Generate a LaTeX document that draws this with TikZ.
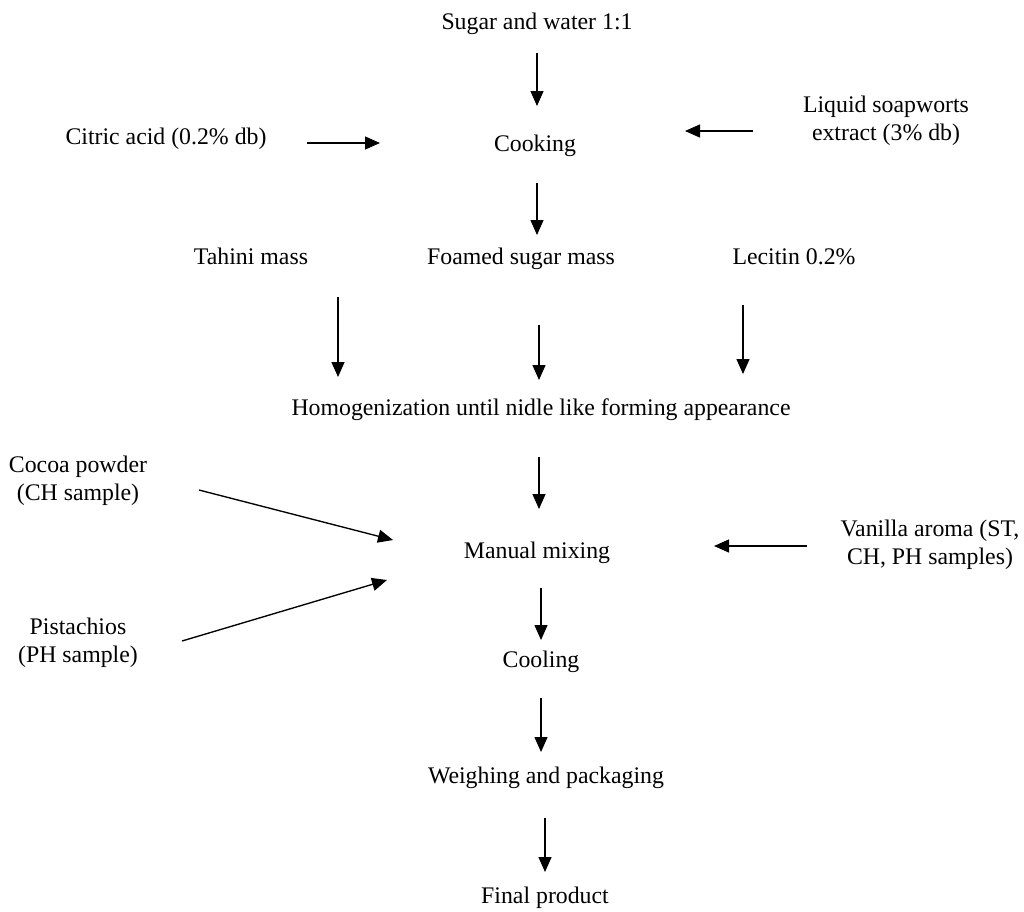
\documentclass[tikz,border=0pt]{standalone}
\usepackage{fontspec}
\setmainfont{Liberation Serif}
\usetikzlibrary{arrows.meta}
\begin{document}
\begin{tikzpicture}[x=1pt,y=-1pt,
  lbl/.style={inner sep=0pt, align=center, font=\fontsize{23.8}{27.8}\selectfont},
  flow/.style={line width=1.35pt, -{Triangle[length=15pt,width=13pt]}}]
\useasboundingbox (0,0) rectangle (1024,911);
% labels
\node[lbl] (sugar)   at (537,24)  {Sugar and water 1:1};
\node[lbl] (cook)    at (535,146) {Cooking};
\node[lbl] (citric)  at (166,139) {Citric acid (0.2\% db)};
\node[lbl] (liquid)  at (886,121) {Liquid soapworts\\extract (3\% db)};
\node[lbl,anchor=base] (tahini)  at (251,264) {Tahini mass};
\node[lbl,anchor=base] (foamed)  at (521,264) {Foamed sugar mass};
\node[lbl,anchor=base] (lecitin) at (794,264) {Lecitin 0.2\%};
\node[lbl] (homog)   at (541,410) {Homogenization until nidle like forming appearance};
\node[lbl] (cocoa)   at (78,481)  {Cocoa powder\\(CH sample)};
\node[lbl] (manual)  at (537,553) {Manual mixing};
\node[lbl] (pist)    at (78,643)  {Pistachios\\(PH sample)};
\node[lbl] (vanilla) at (930,545) {Vanilla aroma (ST,\\CH, PH samples)};
\node[lbl] (cool)    at (541,662) {Cooling};
\node[lbl] (weigh)   at (546,778) {Weighing and packaging};
\node[lbl] (final)   at (545,898) {Final product};
% arrow end points
\coordinate (s1) at (537,53);  \coordinate (e1) at (537,106);
\coordinate (s2) at (307,143); \coordinate (e2) at (380,143);
\coordinate (s3) at (753,131); \coordinate (e3) at (685,131);
\coordinate (s4) at (537,183); \coordinate (e4) at (537,235);
\coordinate (s5) at (338,297); \coordinate (e5) at (338,377);
\coordinate (s6) at (539,325); \coordinate (e6) at (539,380);
\coordinate (s7) at (743,305); \coordinate (e7) at (743,374);
\coordinate (s8) at (539,457); \coordinate (e8) at (539,509);
\coordinate (s9) at (199,490); \coordinate (e9) at (393,540);
\coordinate (s10) at (182,641); \coordinate (e10) at (387,580);
\coordinate (s11) at (807,546); \coordinate (e11) at (714,546);
\coordinate (s12) at (541,588); \coordinate (e12) at (541,640);
\coordinate (s13) at (541,698); \coordinate (e13) at (541,752);
\coordinate (s14) at (545,818); \coordinate (e14) at (545,872);
\foreach \i in {1,...,14} { \draw[flow] (s\i) -- (e\i); }
\end{tikzpicture}
\end{document}
